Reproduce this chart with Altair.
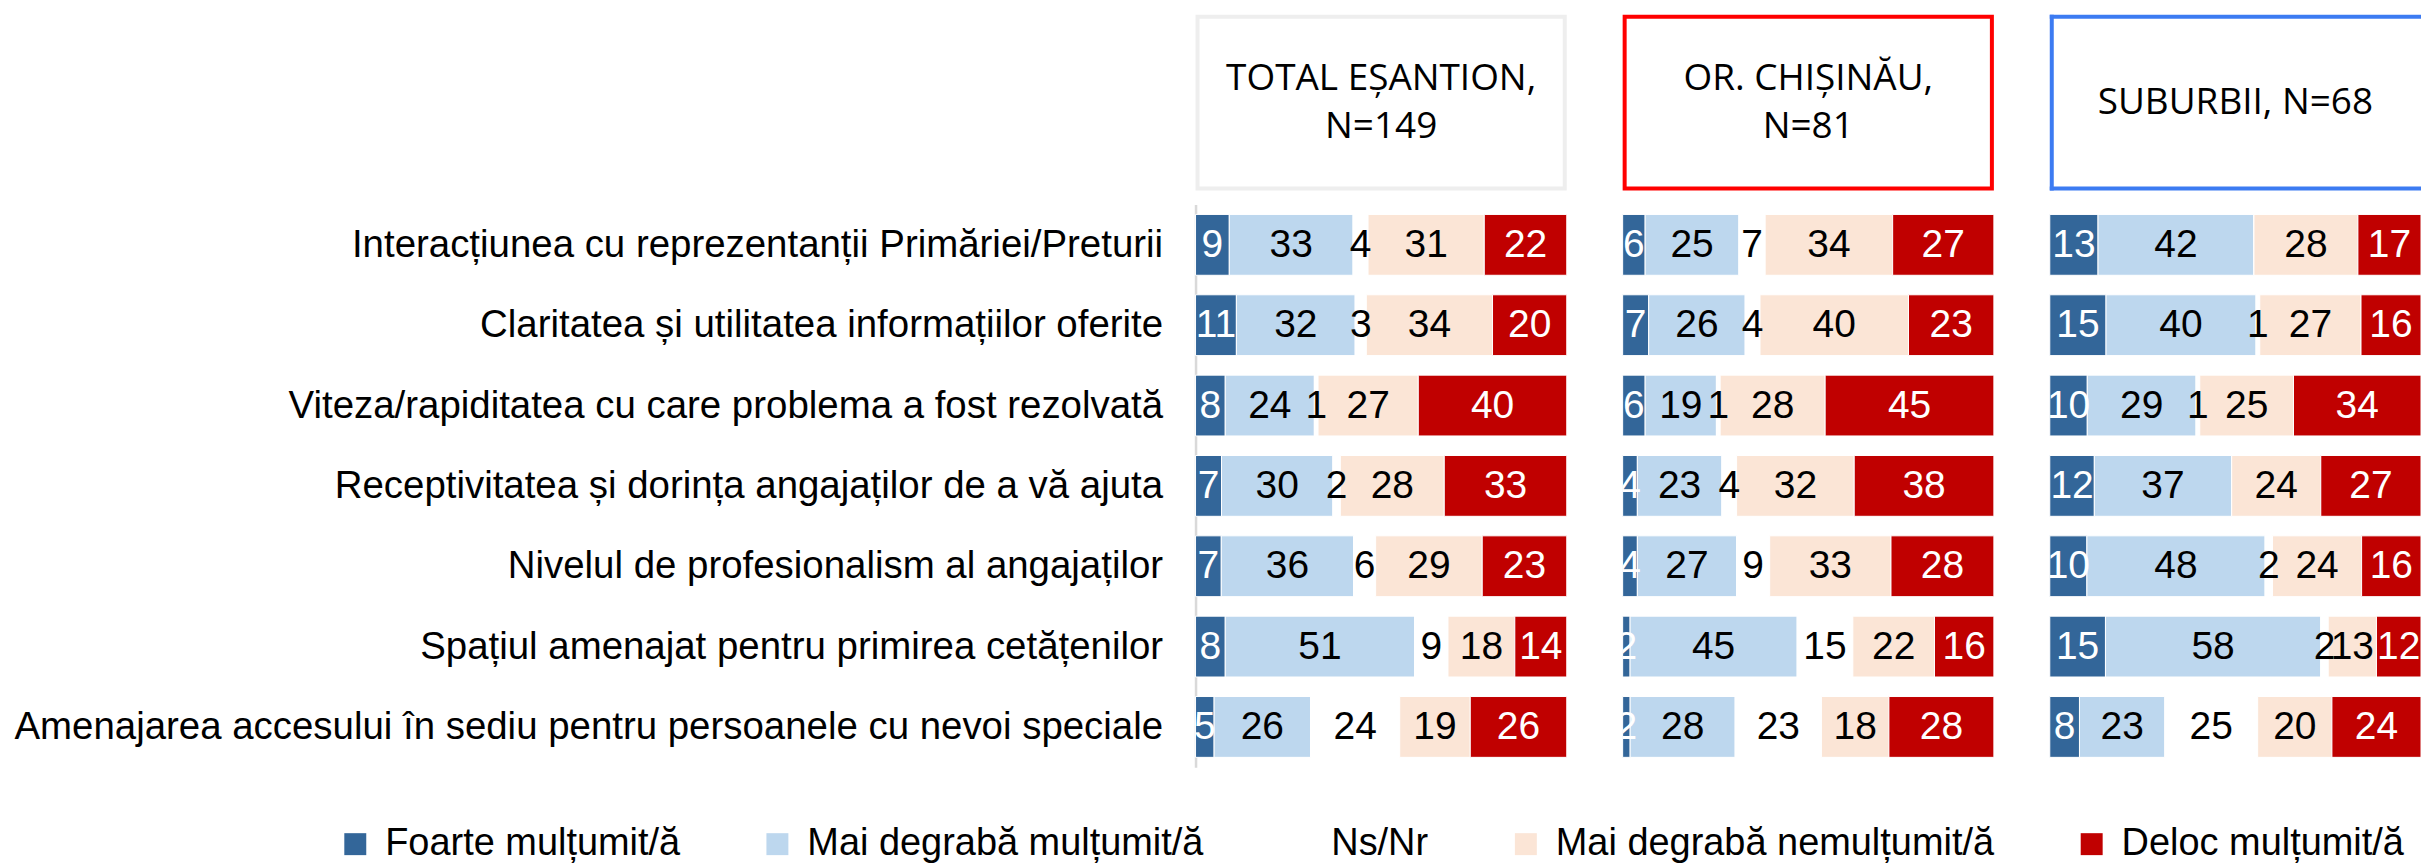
import altair as alt
import pandas as pd

categories = ["Foarte mulțumit/ă", "Mai degrabă mulțumit/ă", "Ns/Nr",
              "Mai degrabă nemulțumit/ă", "Deloc mulțumit/ă"]
colors = ["#336699", "#BDD7EE", "#FFFFFF", "#FBE5D6", "#C00000"]

items = [
    "Interacțiunea cu reprezentanții Primăriei/Preturii",
    "Claritatea și utilitatea informațiilor oferite",
    "Viteza/rapiditatea cu care problema a fost rezolvată",
    "Receptivitatea și dorința angajaților de a vă ajuta",
    "Nivelul de profesionalism al angajaților",
    "Spațiul amenajat pentru primirea cetățenilor",
    "Amenajarea accesului în sediu pentru persoanele cu nevoi speciale",
]

groups = ["TOTAL EȘANTION,\nN=149", "OR. CHIȘINĂU,\nN=81", "SUBURBII, N=68"]
box_colors = ["#EEEEEE", "#FF0000", "#3C7BF2"]

total_foarte = [9, 11, 8, 7, 7, 8, 5]
total_mai_m = [33, 32, 24, 30, 36, 51, 26]
total_nsnr = [4, 3, 1, 2, 6, 9, 24]
total_mai_n = [31, 34, 27, 28, 29, 18, 19]
total_deloc = [22, 20, 40, 33, 23, 14, 26]

chis_foarte = [6, 7, 6, 4, 4, 2, 2]
chis_mai_m = [25, 26, 19, 23, 27, 45, 28]
chis_nsnr = [7, 4, 1, 4, 9, 15, 23]
chis_mai_n = [34, 40, 28, 32, 33, 22, 18]
chis_deloc = [27, 23, 45, 38, 28, 16, 28]

sub_foarte = [13, 15, 10, 12, 10, 15, 8]
sub_mai_m = [42, 40, 29, 37, 48, 58, 23]
sub_nsnr = [0, 1, 1, 0, 2, 2, 25]
sub_mai_n = [28, 27, 25, 24, 24, 13, 20]
sub_deloc = [17, 16, 34, 27, 16, 12, 24]

series = [
    [total_foarte, total_mai_m, total_nsnr, total_mai_n, total_deloc],
    [chis_foarte, chis_mai_m, chis_nsnr, chis_mai_n, chis_deloc],
    [sub_foarte, sub_mai_m, sub_nsnr, sub_mai_n, sub_deloc],
]

rows = []
for g, grp in enumerate(groups):
    for c, cat in enumerate(categories):
        for i, it in enumerate(items):
            rows.append({"group": grp, "item": it, "cat": cat, "order": c,
                         "val": series[g][c][i]})
df = pd.DataFrame(rows)

W, H = 372, 564
LABEL_FONT = "Liberation Sans"

color_enc = alt.Color(
    "cat:N",
    scale=alt.Scale(domain=categories, range=colors),
    sort=categories,
    legend=alt.Legend(
        title=None, orient="none", legendX=-861, legendY=622,
        direction="horizontal", symbolType="square", symbolSize=484,
        symbolStrokeWidth=0, labelFont=LABEL_FONT, labelFontSize=38,
        labelColor="black", labelOffset=11, columnPadding=78,
        labelLimit=800, padding=0,
    ),
)

xscale = alt.Scale(domain=[0, 1], nice=False, zero=True)


def panel(gi):
    d = df[df["group"] == groups[gi]]
    base = alt.Chart(d).transform_stack(
        stack="val", groupby=["item"],
        sort=[alt.SortField("order", order="ascending")],
        as_=["v0", "v1"], offset="normalize",
    ).transform_calculate(mid="(datum.v0 + datum.v1) / 2")

    if gi == 0:
        axis = alt.Axis(
            title=None, labelFont=LABEL_FONT, labelFontSize=38.5,
            labelColor="black", labelPadding=33, ticks=False,
            domainColor="#D9D9D9", domainWidth=2.5, labelLimit=1400,
        )
    else:
        axis = None
    yenc = alt.Y("item:N", sort=items,
                 scale=alt.Scale(paddingInner=0.243, paddingOuter=0.124),
                 axis=axis, title=None)

    bars = base.mark_bar(stroke="white", strokeWidth=1).encode(
        x=alt.X("v0:Q", scale=xscale, axis=None),
        x2="v1:Q",
        y=yenc,
        color=color_enc,
    )
    text = base.transform_filter("datum.val > 0").mark_text(
        clip=True, font=LABEL_FONT, fontSize=39, align="center",
        baseline="middle",
    ).encode(
        x=alt.X("mid:Q", scale=xscale, axis=None),
        y=yenc,
        text="val:Q",
        color=alt.condition(
            "datum.cat == 'Foarte mulțumit/ă' || datum.cat == 'Deloc mulțumit/ă'",
            alt.value("white"), alt.value("black"),
        ),
    )

    hdr = alt.Chart(pd.DataFrame({"h": [groups[gi]]}))
    layers = [bars, text]
    if gi < 2:
        layers.append(hdr.mark_rect(fill="white", stroke=box_colors[gi],
                                    strokeWidth=4).encode(
            x=alt.value(2), x2=alt.value(W - 2),
            y=alt.value(-188), y2=alt.value(-16)))
    else:
        rule_kw = dict(stroke=box_colors[gi], strokeWidth=4, strokeCap="square")
        layers.append(hdr.mark_rule(**rule_kw).encode(
            x=alt.value(2), x2=alt.value(W - 2), y=alt.value(-188)))
        layers.append(hdr.mark_rule(**rule_kw).encode(
            x=alt.value(2), x2=alt.value(W - 2), y=alt.value(-16)))
        layers.append(hdr.mark_rule(**rule_kw).encode(
            x=alt.value(2), y=alt.value(-188), y2=alt.value(-16)))
    n_lines = groups[gi].count("\n") + 1
    layers.append(hdr.mark_text(
        font="Open Sans", fontSize=37, lineBreak="\n", lineHeight=48,
        align="center", baseline="middle", color="black",
    ).encode(text="h:N", x=alt.value(W / 2),
             y=alt.value(-102 - (n_lines - 1) * 24)))

    return alt.layer(*layers).properties(width=W, height=H)


chart = alt.hconcat(panel(0), panel(1), panel(2), spacing=54).properties(
    padding={"left": 5, "top": 5, "right": 0, "bottom": 0},
    background="white",
).configure_view(stroke=None)

chart.save("out.html", embed_options={"renderer": "svg", "actions": False})
